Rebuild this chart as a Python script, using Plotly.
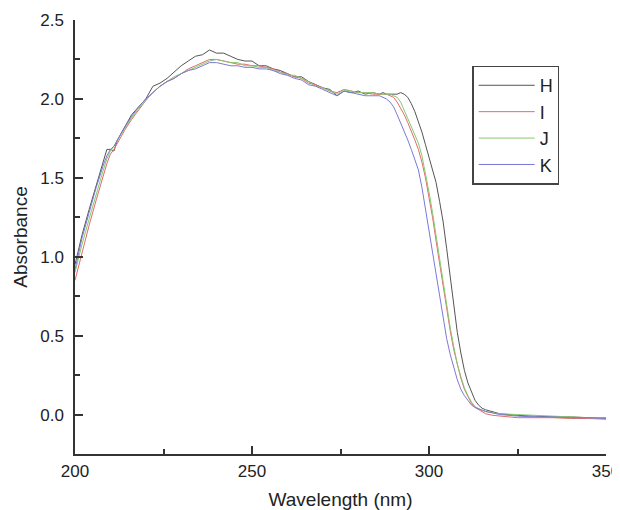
import plotly.graph_objects as go

wavelength = [200, 202, 204, 206, 208, 209, 210, 211, 212,
              214, 216, 218, 220, 222, 224, 226, 228, 230, 232, 234, 236, 238, 240,
              242, 244, 246, 248, 250, 252, 254, 256, 258, 260, 262, 264, 266, 268,
              270, 272, 274, 276, 278, 280, 282, 284, 286,
              287, 288, 289, 290, 291, 292, 293, 294, 295, 296, 297, 298, 299, 300,
              301, 302, 303, 304, 305, 306, 307, 308, 309, 310, 311, 312, 313, 314,
              315, 316, 318, 320, 325, 330, 335, 340, 345, 350]

H = [0.95, 1.14, 1.30, 1.45, 1.59, 1.68, 1.68, 1.67, 1.74,
     1.82, 1.90, 1.95, 2.00, 2.08, 2.10, 2.13, 2.17, 2.21, 2.24, 2.27, 2.28, 2.31, 2.29,
     2.29, 2.27, 2.25, 2.24, 2.24, 2.21, 2.21, 2.19, 2.18, 2.16, 2.14, 2.14, 2.11, 2.09,
     2.07, 2.06, 2.02, 2.05, 2.04, 2.05, 2.03, 2.04, 2.03,
     2.04, 2.03, 2.03, 2.03, 2.03, 2.04, 2.03, 2.01, 1.97, 1.92, 1.86, 1.79, 1.71, 1.63,
     1.56, 1.47, 1.35, 1.22, 1.05, 0.86, 0.68, 0.52, 0.39, 0.28, 0.20, 0.14, 0.09, 0.06,
     0.04, 0.03, 0.015, 0.005, -0.005, -0.01, -0.015, -0.015, -0.02, -0.02]

I = [0.85, 1.03, 1.20, 1.36, 1.52, 1.59, 1.65, 1.68, 1.72,
     1.80, 1.87, 1.93, 1.99, 2.04, 2.08, 2.11, 2.13, 2.16, 2.19, 2.21, 2.23, 2.25, 2.25,
     2.24, 2.23, 2.22, 2.22, 2.21, 2.21, 2.20, 2.19, 2.17, 2.16, 2.14, 2.13, 2.10, 2.09,
     2.07, 2.05, 2.04, 2.06, 2.05, 2.04, 2.04, 2.03, 2.03,
     2.03, 2.03, 2.02, 2.01, 1.98, 1.94, 1.90, 1.85, 1.80, 1.74, 1.68, 1.60, 1.50, 1.38,
     1.25, 1.10, 0.95, 0.81, 0.67, 0.53, 0.41, 0.31, 0.23, 0.16, 0.11, 0.07, 0.045, 0.03,
     0.015, 0.005, -0.005, -0.01, -0.02, -0.02, -0.02, -0.025, -0.025, -0.03]

J = [0.90, 1.08, 1.24, 1.40, 1.55, 1.62, 1.67, 1.70, 1.74,
     1.81, 1.88, 1.94, 1.99, 2.04, 2.08, 2.11, 2.14, 2.16, 2.18, 2.20, 2.22, 2.24, 2.25,
     2.24, 2.23, 2.23, 2.21, 2.21, 2.20, 2.20, 2.18, 2.17, 2.15, 2.15, 2.13, 2.11, 2.08,
     2.07, 2.05, 2.03, 2.06, 2.05, 2.04, 2.04, 2.04, 2.03,
     2.03, 2.03, 2.03, 2.02, 2.01, 1.98, 1.93, 1.88, 1.83, 1.78, 1.72, 1.64, 1.53, 1.41,
     1.28, 1.13, 0.98, 0.84, 0.69, 0.55, 0.43, 0.32, 0.24, 0.17, 0.12, 0.08, 0.05, 0.035,
     0.025, 0.018, 0.01, 0.005, 0.0, -0.005, -0.01, -0.015, -0.02, -0.02]

K = [0.92, 1.12, 1.28, 1.44, 1.58, 1.64, 1.68, 1.70, 1.74,
     1.82, 1.89, 1.95, 2.00, 2.04, 2.08, 2.11, 2.13, 2.16, 2.18, 2.19, 2.21, 2.23, 2.23,
     2.22, 2.21, 2.21, 2.20, 2.20, 2.19, 2.19, 2.18, 2.16, 2.15, 2.13, 2.12, 2.09, 2.08,
     2.06, 2.04, 2.02, 2.05, 2.04, 2.03, 2.02, 2.02, 2.02,
     2.01, 2.00, 1.98, 1.95, 1.90, 1.85, 1.80, 1.74, 1.68, 1.62, 1.55, 1.44, 1.30, 1.16,
     1.02, 0.88, 0.74, 0.60, 0.48, 0.38, 0.30, 0.22, 0.16, 0.12, 0.09, 0.06, 0.045, 0.035,
     0.025, 0.02, 0.01, 0.0, -0.01, -0.015, -0.015, -0.02, -0.02, -0.025]

series_names = ["H", "I", "J", "K"]
series_values = [H, I, J, K]
series_colors = ["#555555", "#e36b6b", "#86c96e", "#7a7ad6"]

fig = go.Figure()
for name, vals, col in zip(series_names, series_values, series_colors):
    fig.add_trace(go.Scatter(x=wavelength, y=vals, mode="lines", name=name,
                             line=dict(color=col, width=1)))

FONT = "Liberation Sans, Arial, sans-serif"
axis_common = dict(
    showline=True, linecolor="#333333", linewidth=1.5, mirror=False,
    ticks="inside", ticklen=8, tickwidth=1.5, tickcolor="#333333",
    showgrid=False, zeroline=False, automargin=False, ticklabeloverflow="allow",
    tickfont=dict(family=FONT, size=17, color="#222222"),
)

# page body has an 8px default margin, so the figure is 8px smaller
fig.update_layout(
    width=612, height=502,
    margin=dict(l=67, r=14, t=12, b=56),
    paper_bgcolor="white", plot_bgcolor="white",
    font=dict(family=FONT, color="#222222"),
    xaxis=dict(range=[200, 350], dtick=50, tick0=200, ticklabelstandoff=1,
               minor=dict(dtick=25, ticks="inside", ticklen=5, tickwidth=1.5, tickcolor="#333333"),
               title=dict(text="Wavelength (nm)", font=dict(size=19), standoff=14),
               **axis_common),
    yaxis=dict(range=[-0.25, 2.5], dtick=0.5, tick0=0, tickformat=".1f", ticklabelstandoff=6,
               minor=dict(dtick=0.25, ticks="inside", ticklen=5, tickwidth=1.5, tickcolor="#333333"),
               title=dict(text="Absorbance", font=dict(size=19), standoff=8),
               **axis_common),
    legend=dict(x=0.748, y=0.895, xanchor="left", yanchor="top",
                bordercolor="#444444", borderwidth=1.5, bgcolor="white",
                font=dict(size=18, color="#222222"),
                tracegroupgap=0, itemwidth=56),
    showlegend=True,
)

fig.write_html("out.html")
